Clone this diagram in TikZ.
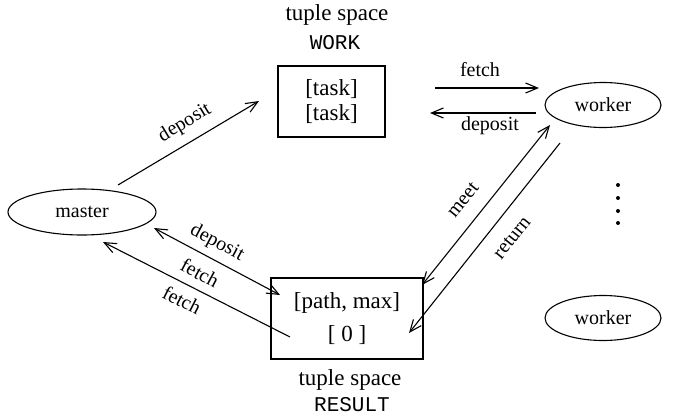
\documentclass[tikz,border=0pt]{standalone}
\usepackage{fontspec}
\setmainfont{Liberation Serif}
\setmonofont{Liberation Mono}
\usetikzlibrary{arrows.meta,shapes.geometric}
\begin{document}
\begin{tikzpicture}[x=1pt,y=-1pt,
  conn/.style={line width=1.1pt,-{Straight Barb[length=12pt,width=10pt,line width=1.1pt]}},
  dconn/.style={line width=1.1pt,{Straight Barb[length=12pt,width=10pt,line width=1.1pt]}-{Straight Barb[length=12pt,width=10pt,line width=1.1pt]}},
  procnode/.style={draw,ellipse,line width=1.1pt,inner sep=0pt,font=\fontsize{20}{24}\selectfont},
  spacebox/.style={draw,rectangle,line width=1.1pt,inner sep=0pt,align=center,font=\fontsize{23}{25}\selectfont},
  captxt/.style={font=\fontsize{23}{26}\selectfont},
  captt/.style={font=\fontsize{21}{24}\ttfamily},
  lbl/.style={font=\fontsize{20}{24}\selectfont,inner sep=0pt}]
\useasboundingbox (0,0) rectangle (683,418);
% nodes
\node[procnode,minimum width=148,minimum height=46] (master) at (82,212) {master};
\node[procnode,minimum width=116,minimum height=45] (worker1) at (603,105) {worker};
\node[procnode,minimum width=116,minimum height=45] (worker2) at (603,318) {worker};
\node[spacebox,minimum width=107,minimum height=71] (work) at (331.5,101.5) {{[task]}\\{[task]}};
\node[spacebox,minimum width=152,minimum height=81,font=\fontsize{23}{33}\selectfont] (result) at (347,318.5) {{[path, max]}\\{[ 0 ]}};
\node[captxt] (wcap) at (337,15) {tuple space};
\node[captt] (wname) at (335,43) {WORK};
\node[captxt] (rcap) at (350,380) {tuple space};
\node[captt] (rname) at (352,405) {RESULT};
% connector end points
\coordinate (a1) at (118,185); \coordinate (a2) at (259,101);
\coordinate (b1) at (435,88);  \coordinate (b2) at (539,88);
\coordinate (c1) at (536,113); \coordinate (c2) at (430,113);
\coordinate (d1) at (550,125); \coordinate (d2) at (422,285);
\coordinate (e1) at (560,143); \coordinate (e2) at (409,333);
\coordinate (f1) at (154,228); \coordinate (f2) at (280,295);
\coordinate (g1) at (290,337); \coordinate (g2) at (103,242);
% connectors
\draw[conn] (a1) -- (a2);
\draw[conn] (b1) -- (b2);
\draw[conn] (c1) -- (c2);
\draw[dconn] (d1) -- (d2);
\draw[conn] (e1) -- (e2);
\draw[dconn] (f1) -- (f2);
\draw[conn] (g1) -- (g2);
% labels
\node[lbl,rotate=31] (la) at (185,123) {deposit};
\node[lbl] (lb) at (480,70) {fetch};
\node[lbl] (lc) at (490,126) {deposit};
\node[lbl,rotate=51] (ld) at (463,200) {meet};
\node[lbl,rotate=51] (le) at (512,238) {return};
\node[lbl,rotate=-28] (lf) at (217,243) {deposit};
\node[lbl,rotate=-28] (lg) at (200,273) {fetch};
\node[lbl,rotate=-27] (lh) at (182,300) {fetch};
% dots
\foreach \yy [count=\i] in {185,198,211,223}
  \fill (618,\yy) circle (2) coordinate (dot\i);
\end{tikzpicture}
\end{document}
